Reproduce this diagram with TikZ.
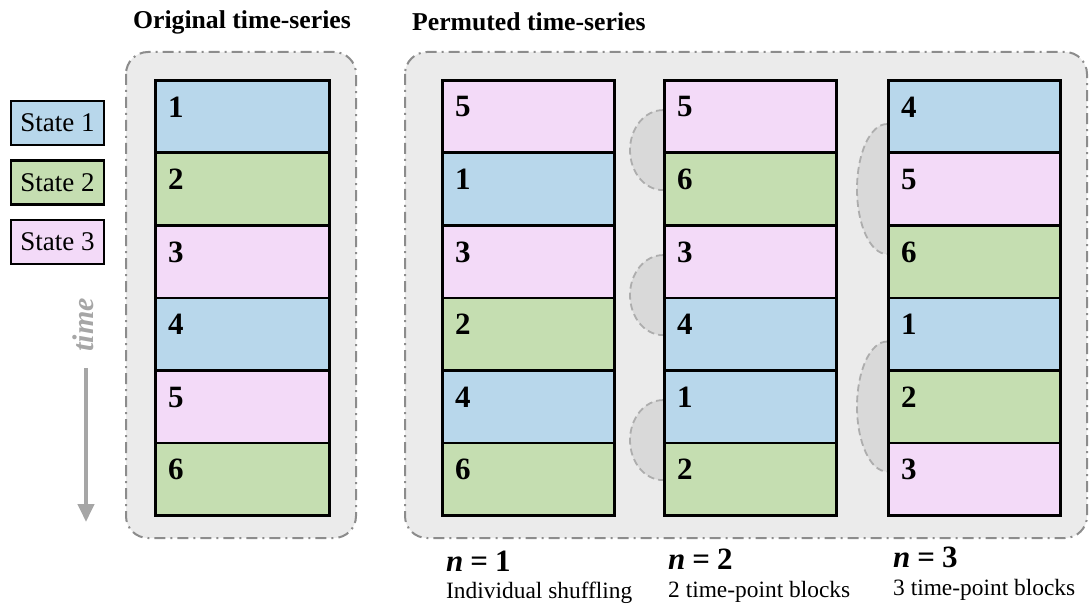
\documentclass[tikz,border=0pt]{standalone}
\usepackage{fontspec}
\setmainfont{Liberation Serif}
\usetikzlibrary{arrows.meta,backgrounds}
\definecolor{sblue}{HTML}{B8D7EB}
\definecolor{sgreen}{HTML}{C5DEB1}
\definecolor{spink}{HTML}{F3DAF8}
\definecolor{panelfill}{HTML}{EBEBEB}
\definecolor{paneldraw}{HTML}{8C8C8C}
\definecolor{arcfill}{HTML}{D9D9D9}
\definecolor{arcdraw}{HTML}{ADADAD}
\definecolor{timegray}{HTML}{A6A6A6}
\begin{document}
\begin{tikzpicture}[x=1pt,y=-1pt,
  cell/.style={draw=black, line width=2.6pt, anchor=north west, minimum height=72.5pt, minimum width=172pt, inner sep=0pt},
  num/.style={anchor=west, inner sep=0pt, font=\fontsize{31}{33}\selectfont\bfseries},
  panel/.style={fill=panelfill, draw=paneldraw, line width=2pt, rounded corners=22pt, dash pattern=on 11pt off 5pt on 2pt off 5pt},
  swapshape/.style={fill=arcfill, draw=arcdraw, line width=1.8pt, dash pattern=on 7pt off 4pt},
  legend/.style={draw=black, line width=2.4pt, minimum width=93pt, minimum height=44pt, inner sep=0pt, font=\fontsize{27}{29}\selectfont},
  title/.style={inner sep=0pt, font=\fontsize{25.7}{28}\selectfont\bfseries},
  nlab/.style={anchor=west, inner sep=0pt, font=\fontsize{31}{33}\selectfont\bfseries},
  dlab/.style={anchor=west, inner sep=0pt, font=\fontsize{23.4}{25}\selectfont}]
\useasboundingbox (0,0) rectangle (1089,604);

% titles
\node[title] (t1) at (242,22) {Original time-series};
\node[title, anchor=west] (t2) at (412,22) {Permuted time-series};

% legend
\node[legend, fill=sblue] (l1) at (57.5,123) {State 1};
\node[legend, fill=sgreen] (l2) at (57.5,182.5) {State 2};
\node[legend, fill=spink] (l3) at (57.5,242) {State 3};

% time arrow
\node[rotate=90, inner sep=0pt, text=timegray, font=\fontsize{30}{32}\selectfont\bfseries\itshape] (tm) at (83,325) {time};
\coordinate (ta) at (86,368);
\coordinate (tb) at (86,522);
\draw[line width=4pt, draw=timegray, -{Triangle[length=18pt,width=16pt]}] (ta) -- (tb);

% original column
\foreach \v/\c [count=\i from 0] in {1/sblue,2/sgreen,3/spink,4/sblue,5/spink,6/sgreen}{
  \node[cell, fill=\c, minimum width=174pt] (o\i) at (154,{79+72.5*\i}) {};
  \node[num] (on\i) at ([shift={(14,28)}]o\i.north west) {\v};
}
% permuted n=1
\foreach \v/\c [count=\i from 0] in {5/spink,1/sblue,3/spink,2/sgreen,4/sblue,6/sgreen}{
  \node[cell, fill=\c] (a\i) at (441,{79+72.5*\i}) {};
  \node[num] (an\i) at ([shift={(14,28)}]a\i.north west) {\v};
}
% permuted n=2
\foreach \v/\c [count=\i from 0] in {5/spink,6/sgreen,3/spink,4/sblue,1/sblue,2/sgreen}{
  \node[cell, fill=\c] (b\i) at (663,{79+72.5*\i}) {};
  \node[num] (bn\i) at ([shift={(14,28)}]b\i.north west) {\v};
}
% permuted n=3
\foreach \v/\c [count=\i from 0] in {4/sblue,5/spink,6/sgreen,1/sblue,2/sgreen,3/spink}{
  \node[cell, fill=\c] (c\i) at (887,{79+72.5*\i}) {};
  \node[num] (cn\i) at ([shift={(14,28)}]c\i.north west) {\v};
}

% background panels and swap marks
\begin{scope}[on background layer]
  \draw[panel] (126,52) rectangle (356,538);
  \draw[panel] (405,52) rectangle (1087,538);
  \foreach \k in {0,2,4}{
    \filldraw[swapshape] ([shift={(0,-44)}]b\k.south west) arc[start angle=270, end angle=90, x radius=33, y radius=40];
  }
  \foreach \k in {1,4}{
    \filldraw[swapshape] ([shift={(0,-65)}]c\k.west) arc[start angle=270, end angle=90, x radius=30, y radius=65];
  }
\end{scope}

% bottom labels
\node[nlab] (n1) at (446,561) {{\itshape n}\hspace{7pt}=\hspace{7pt}1};
\node[dlab] (d1) at (446,593) {Individual shuffling};
\node[nlab] (n2) at (668,559) {{\itshape n}\hspace{7pt}=\hspace{7pt}2};
\node[dlab] (d2) at (668,592) {2 time-point blocks};
\node[nlab] (n3) at (893,557) {{\itshape n}\hspace{7pt}=\hspace{7pt}3};
\node[dlab] (d3) at (893,590) {3 time-point blocks};
\end{tikzpicture}
\end{document}
